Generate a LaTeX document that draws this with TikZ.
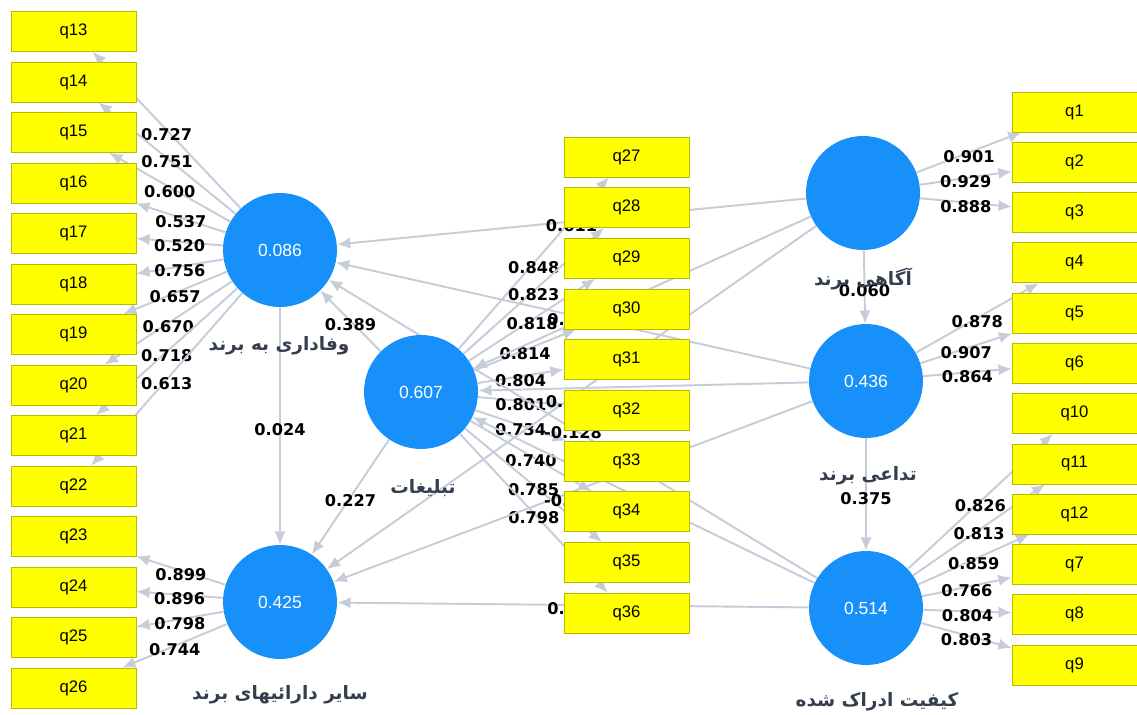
\documentclass[tikz,border=0pt]{standalone}
\usepackage{fontspec}
\setmainfont{Liberation Sans}
\newfontfamily\numfont{DejaVu Sans}
\newfontfamily\farsi[Script=Arabic]{DejaVu Sans}
\TeXXeTstate=1
\usetikzlibrary{arrows.meta}
\definecolor{lvblue}{RGB}{24,144,250}
\definecolor{boxyellow}{RGB}{255,255,0}
\definecolor{boxedge}{RGB}{185,185,0}
\definecolor{linkgrey}{RGB}{198,204,218}
\definecolor{namegrey}{RGB}{52,62,78}
\pgfdeclarelayer{bg}
\pgfsetlayers{bg,main}
\tikzset{
  ind/.style={draw=boxedge, fill=boxyellow, minimum width=2.5cm, minimum height=0.8cm,
    inner sep=0pt, font=\fontsize{9.5}{9.5}\selectfont},
  lv/.style={circle, fill=lvblue, minimum size=2.28cm, inner sep=0pt, text=white,
    font=\fontsize{10}{10}\selectfont},
  lvname/.style={text=namegrey, font=\farsi\bfseries\fontsize{10.5}{10.5}\selectfont},
  link/.style={draw=linkgrey, line width=1.1pt, -{Latex[length=7.5pt,width=6.5pt]}},
  coef/.style={font=\numfont\bfseries\fontsize{9.2}{9.2}\selectfont, inner sep=0pt, yshift=-2.3pt}
}
\begin{document}
\begin{tikzpicture}[x=0.02cm, y=-0.02cm]
\useasboundingbox (0,0) rectangle (1137,715);

% indicators
\foreach \q [count=\i from 0] in {13,...,26}
  \node[ind] (q\q) at (73.5, 31.5+50.5*\i) {q\q};
\foreach \q [count=\i from 0] in {27,...,36}
  \node[ind] (q\q) at (626.5, 157+50.67*\i) {q\q};
\foreach \q [count=\i from 0] in {1,2,3,4,5,6,10,11,12,7,8,9}
  \node[ind] (q\q) at (1074.5, 112+50.27*\i) {q\q};

% latent variables
\node[lv] (loyal) at (280,250) {0.086};
\node[lv] (advert) at (421,392) {0.607};
\node[lv] (assets) at (280,602) {0.425};
\node[lv] (aware) at (863,193) {};
\node[lv] (assoc) at (866,381) {0.436};
\node[lv] (quality) at (866,608) {0.514};

\node[lvname] (loyalname) at (279,346) {\beginR وفاداری به برند\endR};
\node[lvname] (advertname) at (423,488) {\beginR تبلیغات\endR};
\node[lvname] (assetsname) at (280,695) {\beginR سایر دارائیهای برند\endR};
\node[lvname] (awarename) at (863,279) {\beginR آگاهی برند\endR};
\node[lvname] (assocname) at (868,476) {\beginR تداعی برند\endR};
\node[lvname] (qualityname) at (877,702) {\beginR کیفیت ادراک شده\endR};

\begin{pgfonlayer}{bg}
\fill[white] (0,0) rectangle (1137,715);
% outer loadings
\foreach \q/\v in {13/0.727,14/0.751,15/0.600,16/0.537,17/0.520,18/0.756,19/0.657,20/0.670,21/0.718,22/0.613}
  \draw[link] (loyal) -- (q\q) node[midway, coef] {\v};
\foreach \q/\v in {23/0.899,24/0.896,25/0.798,26/0.744}
  \draw[link] (assets) -- (q\q) node[midway, coef] {\v};
\foreach \q/\v in {27/0.848,28/0.823,29/0.818,30/0.814,31/0.804,32/0.801,33/0.734,34/0.740,35/0.785,36/0.798}
  \draw[link] (advert) -- (q\q) node[midway, coef] {\v};
\foreach \q/\v in {1/0.901,2/0.929,3/0.888}
  \draw[link] (aware) -- (q\q) node[midway, coef] {\v};
\foreach \q/\v in {4/0.878,5/0.907,6/0.864}
  \draw[link] (assoc) -- (q\q) node[midway, coef] {\v};
\foreach \q/\v in {10/0.826,11/0.813,12/0.859,7/0.766,8/0.804,9/0.803}
  \draw[link] (quality) -- (q\q) node[midway, coef] {\v};
% inner model
\foreach \a/\b/\v in {aware/loyal/0.611, aware/assoc/0.060, aware/advert/0.141, aware/assets/0.097,
    assoc/quality/0.375, assoc/loyal/0.104,
    quality/loyal/-0.128, quality/advert/0.113, quality/assets/0.218,
    advert/loyal/0.389, advert/assets/0.227, loyal/assets/0.024}
  \draw[link] (\a) -- (\b) node[midway, coef] {\v};
\draw[link] (assoc) -- (advert) node[midway, coef, yshift=-4pt] {0.254};
\draw[link] (assoc) -- (assets) node[midway, coef, yshift=-3pt] {-0.052};
\end{pgfonlayer}
\end{tikzpicture}
\end{document}
